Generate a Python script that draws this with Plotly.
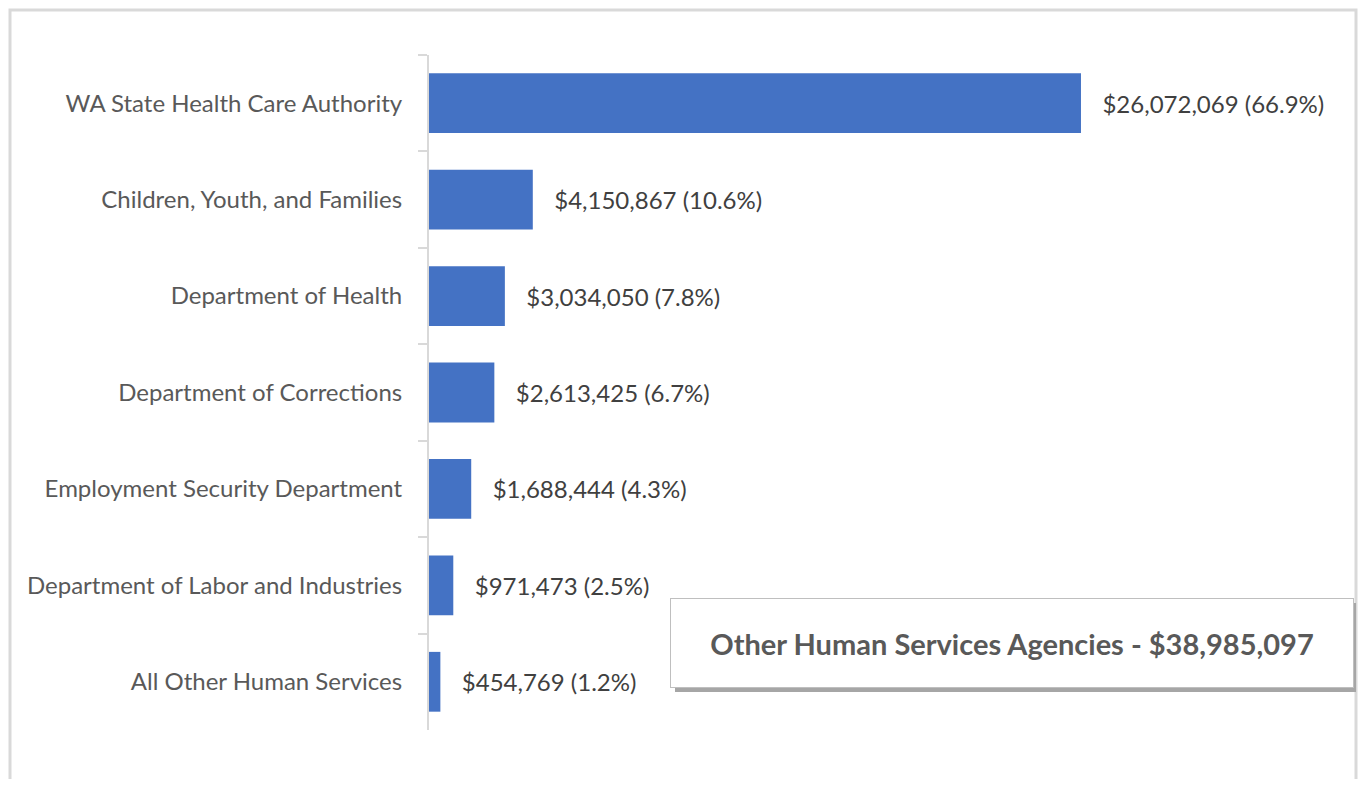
import plotly.graph_objects as go

# Agency spending, human services (other agencies)
agencies = [
    "WA State Health Care Authority",
    "Children, Youth, and Families",
    "Department of Health",
    "Department of Corrections",
    "Employment Security Department",
    "Department of Labor and Industries",
    "All Other Human Services",
]
amounts = [26072069, 4150867, 3034050, 2613425, 1688444, 971473, 454769]
shares = [66.9, 10.6, 7.8, 6.7, 4.3, 2.5, 1.2]
total_label = "Other Human Services Agencies - $38,985,097"

bar_labels = [f"   ${a:,} ({s}%)" for a, s in zip(amounts, shares)]

FONT = "Lato"
BLUE = "#4472C4"
GRID = "#d9d9d9"

# the page has an 8px body margin, so figure coords = screen coords - 8
W, H = 1350, 771
PL, PR, PT, PB = 421, 1332, 47, 722   # plot area in figure pixels
PW, PH = PR - PL, PB - PT


def px_x(x):
    return (x - 8 - PL) / PW


def px_y(y):
    return (PB - (y - 8)) / PH


fig = go.Figure()
fig.add_trace(go.Bar(
    x=amounts,
    y=agencies,
    orientation="h",
    marker=dict(color=BLUE, line=dict(width=0)),
    text=bar_labels,
    textposition="outside",
    cliponaxis=False,
    textfont=dict(family=FONT, size=24, color="#404040"),
    hoverinfo="skip",
))

# outer frame of the chart (bottom edge runs off the page)
fig.add_shape(type="rect", xref="paper", yref="paper",
              x0=px_x(10), x1=px_x(1356), y0=px_y(810), y1=px_y(10),
              line=dict(color=GRID, width=3), fillcolor="rgba(0,0,0,0)", layer="below")

# shadow behind the total box
fig.add_shape(type="rect", xref="paper", yref="paper",
              x0=px_x(675), x1=px_x(1356), y0=px_y(692), y1=px_y(603),
              line=dict(width=0), fillcolor="#a6a6a6")

fig.add_annotation(
    xref="paper", yref="paper",
    x=px_x(1012), y=px_y(643),
    xanchor="center", yanchor="middle",
    text=f"<b>{total_label}</b>",
    showarrow=False,
    width=680, height=86,
    bgcolor="white", bordercolor="#bfbfbf", borderwidth=1,
    font=dict(family=FONT, size=29, color="#595959"),
)

fig.update_layout(
    width=W, height=H,
    margin=dict(l=PL, r=W - PR, t=PT, b=H - PB),
    paper_bgcolor="white",
    plot_bgcolor="white",
    showlegend=False,
    bargap=0.38,
    xaxis=dict(range=[0, 36430000], visible=False, fixedrange=True),
    yaxis=dict(
        autorange="reversed",
        showline=True, linecolor=GRID, linewidth=2,
        ticks="outside", tickson="boundaries", ticklen=9, tickcolor=GRID, tickwidth=2,
        showgrid=False,
        tickfont=dict(family=FONT, size=24, color="#595959"),
        ticklabelstandoff=20,
    ),
)

fig.write_html("out.html")
